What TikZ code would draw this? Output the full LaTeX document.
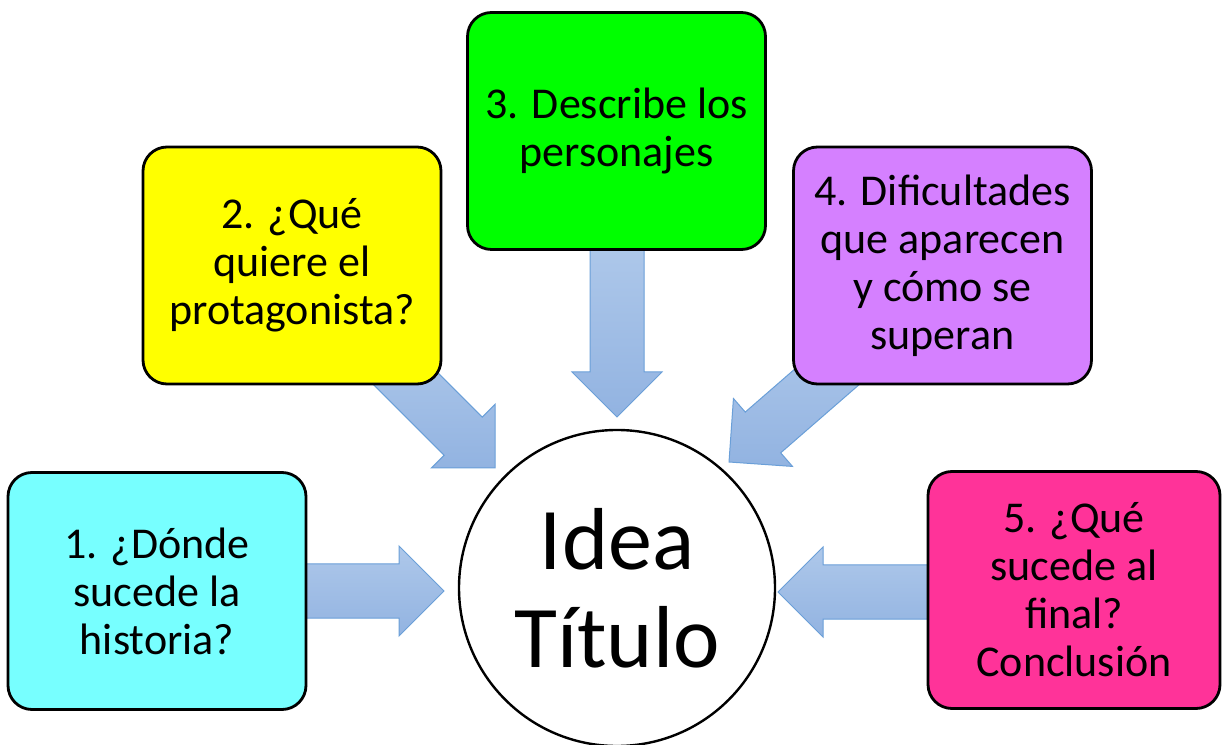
\documentclass[tikz,border=0pt]{standalone}
\usepackage{fontspec}
\setmainfont{Carlito}
\definecolor{cyanbox}{HTML}{77FFFF}
\definecolor{yellowbox}{HTML}{FFFF00}
\definecolor{greenbox}{HTML}{00FF00}
\definecolor{purplebox}{HTML}{D580FF}
\definecolor{pinkbox}{HTML}{FF3399}
\definecolor{arrowlight}{HTML}{AEC8EA}
\definecolor{arrowdark}{HTML}{92B3E1}
\definecolor{arrowline}{HTML}{6A9FD8}
\tikzset{
  box/.style={draw=black, line width=2.8pt, rounded corners=24pt,
    minimum width=298pt, minimum height=237pt, align=center,
    font=\fontsize{44}{48}\selectfont, inner sep=4pt},
  blockfill/.style={draw=arrowline, line width=1pt, left color=arrowlight, right color=arrowdark, shading angle=0},
  blockarrow/.pic={
    \path[blockfill] (0,0) -- (-45,45) -- (-45,27) -- (-#1,27) -- (-#1,-27) -- (-45,-27) -- (-45,-45) -- cycle;
  }
}
\begin{document}
\begin{tikzpicture}[x=1pt,y=1pt]
\useasboundingbox (0,0) rectangle (1222,744);
\fill[white] (0,0) rectangle (1222,744);
% arrow tips
\coordinate (t1) at (444,153);
\coordinate (t2) at (495,276);
\coordinate (t3) at (617,327);
\coordinate (t4) at (729,282);
\coordinate (t5) at (778,152);
% block arrows
\pic[rotate=0] at (t1) {blockarrow=150};
\pic[rotate=-45] at (t2) {blockarrow=160};
\pic[rotate=-90] at (t3) {blockarrow=175};
\pic[rotate=221] at (t4) {blockarrow=175};
\pic[rotate=180] at (t5) {blockarrow=160};
% boxes
\node[box, fill=cyanbox] (b1) at (157,153) {1. ¿Dónde\\sucede la\\historia?};
\node[box, fill=yellowbox] (b2) at (292,478.5) {2. ¿Qué\\quiere el\\protagonista?};
\node[box, fill=greenbox] (b3) at (616.5,613) {3. Describe los\\personajes};
\node[box, fill=purplebox] (b4) at (942.5,478.5) {4. Dificultades\\que aparecen\\y cómo se\\superan};
\node[box, fill=pinkbox, minimum width=292pt] (b5) at (1074,154) {5. ¿Qué\\sucede al\\final?\\Conclusión};
% center circle
\node[draw=black, line width=2.4pt, fill=white, circle, minimum size=316pt, inner sep=0pt,
  align=center, font=\fontsize{88}{98}\selectfont] (c) at (617,156) {Idea\\Título};
\end{tikzpicture}
\end{document}
